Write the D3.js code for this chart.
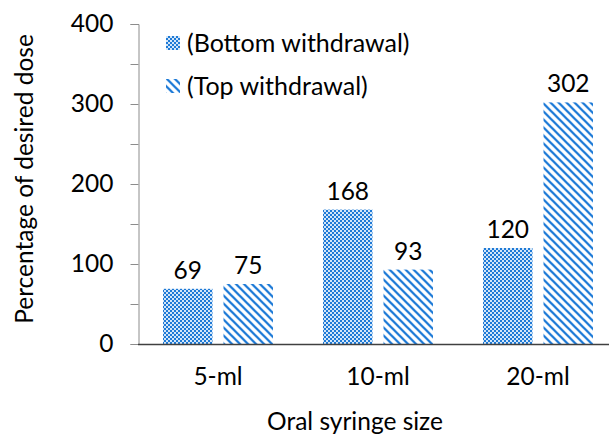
<!DOCTYPE html>
<html><head><meta charset="utf-8">
<script src="https://cdn.jsdelivr.net/npm/d3@7"></script>
<style>
body{margin:0;background:#fff;}
text{font-family:Lato, "Liberation Sans", sans-serif;fill:#000;}
</style></head>
<body><svg id="c" width="609" height="439"></svg>
<script>
const categories = ["5-ml", "10-ml", "20-ml"];
const seriesNames = ["(Bottom withdrawal)", "(Top withdrawal)"];
const bottomValues = [69, 168, 120];
const topValues = [75, 93, 302];
const yTicks = [0, 100, 200, 300, 400];
const yMinorTicks = [0, 50, 100, 150, 200, 250, 300, 350, 400];

const svg = d3.select("#c");
const fs = 24.5;
const defs = svg.append("defs");
// checker pattern
const chk = defs.append("pattern").attr("id","chk").attr("patternUnits","userSpaceOnUse")
  .attr("width",4).attr("height",4);
chk.append("rect").attr("width",4).attr("height",4).attr("fill","#d3e6f8");
chk.append("rect").attr("x",0).attr("y",0).attr("width",2).attr("height",2).attr("fill","#1f7ad6");
chk.append("rect").attr("x",2).attr("y",2).attr("width",2).attr("height",2).attr("fill","#1f7ad6");
// diagonal pattern
const dg = defs.append("pattern").attr("id","dg").attr("patternUnits","userSpaceOnUse")
  .attr("width",8).attr("height",8);
dg.append("rect").attr("width",8).attr("height",8).attr("fill","#fff");
dg.append("path").attr("d","M-2,-2L10,10M-2,6L2,10M6,-2L10,2")
  .attr("stroke","#4f9ae3").attr("stroke-width",2.6);
dg.append("path").attr("d","M-2,-2L10,10M-2,6L2,10M6,-2L10,2")
  .attr("stroke","#1574d4").attr("stroke-width",1.2);

const y = d3.scaleLinear().domain([0,400]).range([344,24]);
const x0 = d3.scaleBand().domain(categories).range([138,618]).paddingInner(0.3125).paddingOuter(0.15625);
const x1 = d3.scaleBand().domain([0,1]).range([0,x0.bandwidth()]).paddingInner(0.182);

// y axis
const yAxis = d3.axisLeft(y).tickValues(yMinorTicks).tickSize(8).tickFormat(d => yTicks.includes(d) ? d : "");
const ga = svg.append("g").attr("transform","translate(138.5,0)").call(yAxis);
ga.select(".domain").attr("stroke","#8c8c8c");
ga.selectAll(".tick line").attr("stroke","#8c8c8c");
ga.selectAll(".tick text").attr("font-size",fs).attr("font-family","Lato").attr("fill","#000").attr("x",-25);

const series = [bottomValues, topValues];
const fills = ["url(#chk)","url(#dg)"];
series.forEach((vals,si)=>{
  svg.append("g").selectAll("rect").data(vals).join("rect")
    .attr("x",(d,i)=>x0(categories[i])+x1(si))
    .attr("width",x1.bandwidth())
    .attr("y",d=>y(d)).attr("height",d=>y(0)-y(d))
    .attr("fill",fills[si]);
  svg.append("g").selectAll("text").data(vals).join("text")
    .attr("x",(d,i)=>x0(categories[i])+x1(si)+x1.bandwidth()/2)
    .attr("y",d=>y(d)-10)
    .attr("text-anchor","middle").attr("font-size",fs).text(d=>d);
});

// x axis
const xAxis = d3.axisBottom(x0).tickSize(0).tickPadding(24);
const gx = svg.append("g").attr("transform","translate(0,344)").call(xAxis);
gx.select(".domain").attr("stroke","#404040").attr("stroke-width",1.3).attr("d","M138,0.5H609");
gx.selectAll(".tick text").attr("font-size",fs).attr("font-family","Lato").attr("fill","#000").attr("dy","0.7em");

// axis titles
svg.append("text").attr("x",355).attr("y",430).attr("text-anchor","middle").attr("font-size",fs).text("Oral syringe size");
svg.append("text").attr("transform","translate(33,179) rotate(-90)").attr("text-anchor","middle").attr("font-size",fs).text("Percentage of desired dose");

// legend
const lg = svg.append("g");
seriesNames.forEach((n,i)=>{
  lg.append("rect").attr("x",166).attr("y",36+i*43).attr("width",14).attr("height",14).attr("fill",fills[i]);
  lg.append("text").attr("x",187).attr("y",43+i*43).attr("dy","0.35em").attr("font-size",25).text(n);
});
</script></body></html>
